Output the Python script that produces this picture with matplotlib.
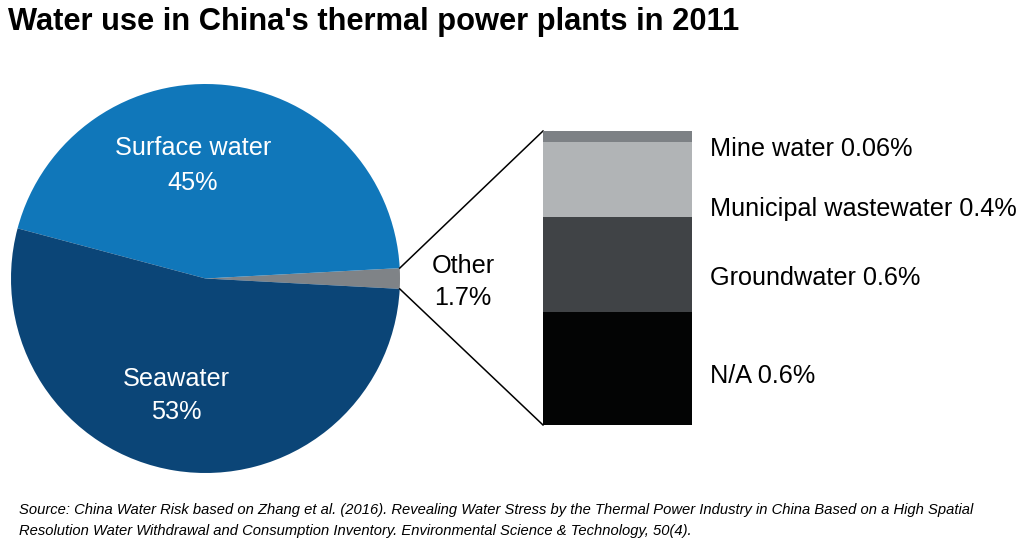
import numpy as np
import matplotlib
matplotlib.use("Agg")
from matplotlib import pyplot as plt

# pie data (percent of total water use)
pie_names = ["Other", "Surface water", "Seawater"]
pie_values = [1.7, 45, 53.3]
pie_colors = ["#7f8387", "#1077ba", "#0b4577"]

# breakdown of "Other", bottom to top
other_names = ["N/A", "Groundwater", "Municipal wastewater", "Mine water"]
other_values = [0.65, 0.55, 0.43, 0.064]
other_labels = ["N/A 0.6%", "Groundwater 0.6%", "Municipal wastewater 0.4%", "Mine water 0.06%"]
other_colors = ["#030404", "#404346", "#b1b4b6", "#7d8185"]

W, H = 1024, 548
font = "Liberation Sans"

fig = plt.figure(figsize=(W / 100, H / 100), dpi=100)
ax = fig.add_axes([0, 0, 1, 1])

cx, cy, r = 205.5, H - 278.5, 194.5
start = -pie_values[0] / sum(pie_values) * 360 / 2
wedges, _ = ax.pie(pie_values, colors=pie_colors, startangle=start, counterclock=True,
                   center=(cx, cy), radius=r, wedgeprops=dict(linewidth=0))
ax.set_xlim(0, W)
ax.set_ylim(0, H)
ax.set_aspect("auto")
ax.axis("off")

def py(y):
    return H - y

lab = dict(family=font, fontsize=18.2, ha="center", va="center")
ax.text(193, py(148), "Surface water", color="white", **lab)
ax.text(193, py(183), "45%", color="white", **lab)
ax.text(176, py(379), "Seawater", color="white", **lab)
ax.text(176, py(412), "53%", color="white", **lab)
ax.text(463, py(266), "Other", color="black", **lab)
ax.text(463, py(298), "1.7%", color="black", **lab)

# stacked bar for the "Other" slice
bx0, bx1, by0, by1 = 543, 692, 131, 425
bax = fig.add_axes([bx0 / W, (H - by1) / H, (bx1 - bx0) / W, (by1 - by0) / H])
bottom = 0
for v, c in zip(other_values, other_colors):
    bax.bar(0, v, bottom=bottom, width=1, color=c, linewidth=0)
    bottom += v
bax.set_xlim(-0.5, 0.5)
bax.set_ylim(0, bottom)
bax.axis("off")

# connector lines from the slice edge to the bar corners
a1 = np.deg2rad(start + 360 * pie_values[0] / sum(pie_values))
a0 = np.deg2rad(start)
ax.plot([cx + r * np.cos(a1), bx0], [cy + r * np.sin(a1), py(by0)], color="black", lw=1.1)
ax.plot([cx + r * np.cos(a0), bx0], [cy + r * np.sin(a0), py(by1)], color="black", lw=1.1)

label_y = [376, 278, 209, 149]
for t, y in zip(other_labels, label_y):
    ax.text(710, py(y), t, family=font, fontsize=18.2, ha="left", va="center")

fig.text(8 / W, 1 - 22 / H, "Water use in China's thermal power plants in 2011",
         family=font, fontweight="bold", fontsize=22.2, ha="left", va="center")
fig.text(19 / W, 1 - 510 / H,
         "Source: China Water Risk based on Zhang et al. (2016). Revealing Water Stress by the Thermal Power Industry in China Based on a High Spatial",
         family=font, style="italic", fontsize=10.65, ha="left", va="center")
fig.text(19 / W, 1 - 531 / H,
         "Resolution Water Withdrawal and Consumption Inventory. Environmental Science & Technology, 50(4).",
         family=font, style="italic", fontsize=10.65, ha="left", va="center")

fig.savefig("out.png", dpi=100)
